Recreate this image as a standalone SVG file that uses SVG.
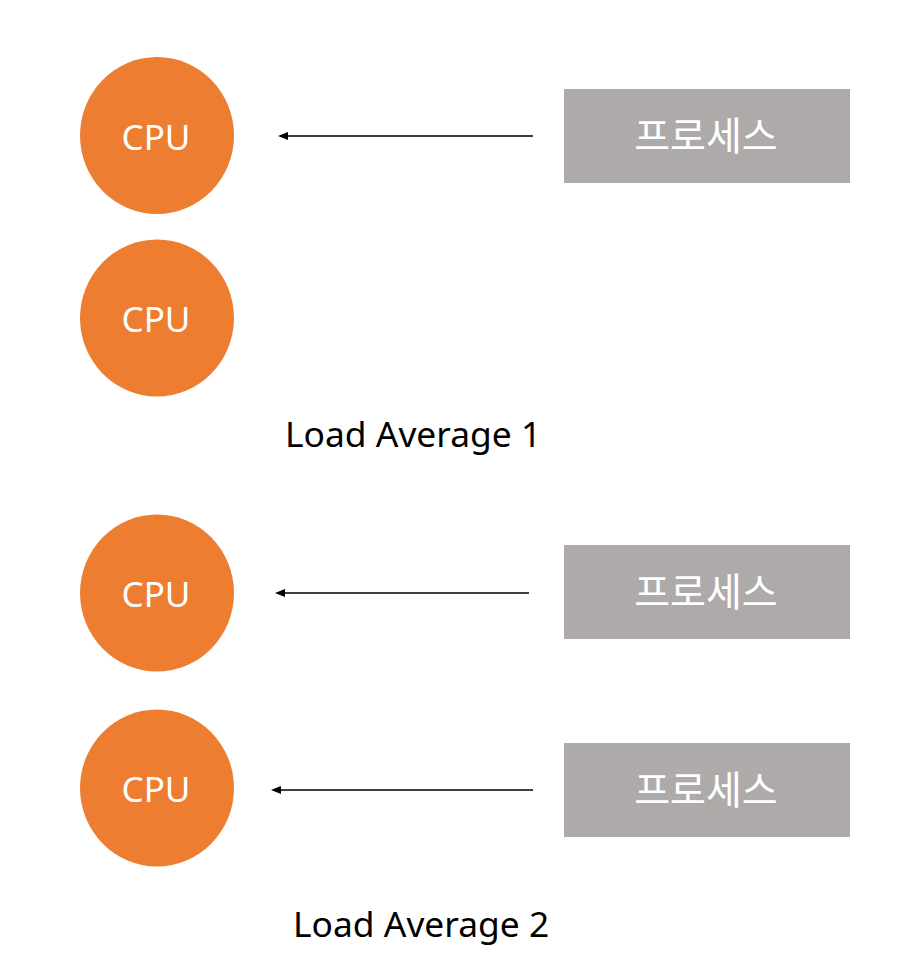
<svg xmlns="http://www.w3.org/2000/svg" width="906" height="974" viewBox="0 0 906 974">
<defs>
<style>
.cpu{fill:#ED7D31}
.proc{fill:#AEAAAA}
.ct{font-family:"Noto Sans","Noto Sans CJK KR",sans-serif;font-size:35px;fill:#fff;text-anchor:middle}
.pt{font-family:"Noto Sans CJK KR",sans-serif;font-size:39px;fill:#fff;text-anchor:middle}
.lt{font-family:"Noto Sans","Noto Sans CJK KR",sans-serif;font-size:35.4px;fill:#000}
.conn{stroke:#000;stroke-width:1.3;fill:none;marker-end:url(#ah)}
</style>
<marker id="ah" viewBox="0 0 10 8" refX="0" refY="4" markerUnits="userSpaceOnUse" markerWidth="10" markerHeight="8" orient="auto">
<path d="M0,0 L10,4 L0,8 Z" fill="#000"/>
</marker>
</defs>
<rect width="906" height="974" fill="#fff"/>
<g id="cpu1"><ellipse class="cpu" cx="157" cy="135.5" rx="77" ry="78.5"/><text class="ct" x="156" y="150">CPU</text></g>
<g id="cpu2"><ellipse class="cpu" cx="157" cy="318" rx="77" ry="78.5"/><text class="ct" x="156" y="332">CPU</text></g>
<g id="cpu3"><ellipse class="cpu" cx="157" cy="593" rx="77" ry="78.5"/><text class="ct" x="156" y="607">CPU</text></g>
<g id="cpu4"><ellipse class="cpu" cx="157" cy="788" rx="77" ry="78.5"/><text class="ct" x="156" y="802">CPU</text></g>
<g id="proc1"><rect class="proc" x="564" y="89" width="286" height="94"/><text class="pt" x="706" y="150">프로세스</text></g>
<g id="proc2"><rect class="proc" x="564" y="545" width="286" height="94"/><text class="pt" x="706" y="606">프로세스</text></g>
<g id="proc3"><rect class="proc" x="564" y="743" width="286" height="94"/><text class="pt" x="706" y="804">프로세스</text></g>
<g id="label1"><text class="lt" x="285" y="447">Load Average 1</text></g>
<g id="label2"><text class="lt" x="293" y="937">Load Average 2</text></g>
<g id="connectors">
<line class="conn" x1="533" y1="136" x2="288" y2="136"/>
<line class="conn" x1="529" y1="593" x2="285" y2="593"/>
<line class="conn" x1="533" y1="790" x2="281" y2="790"/>
</g>
</svg>
